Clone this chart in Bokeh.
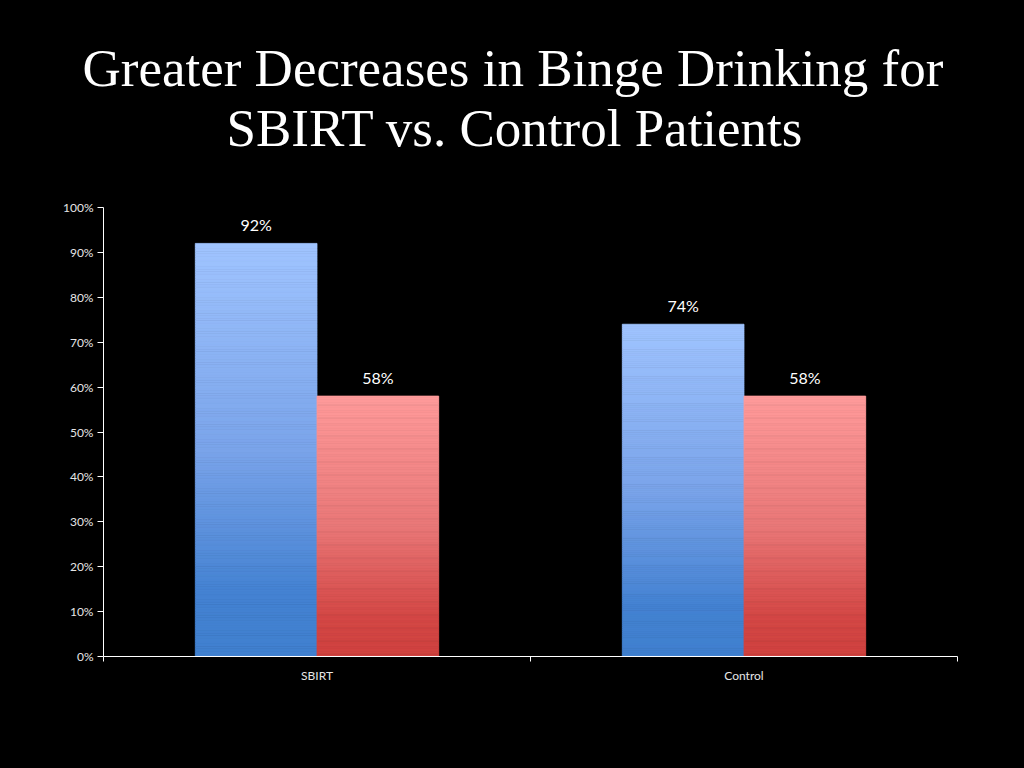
from bokeh.plotting import figure
from bokeh.models import Range1d, FixedTicker, NumeralTickFormatter, Title, ColumnDataSource, LinearAxis
from bokeh.core.properties import value
from bokeh.embed import file_html
from bokeh.resources import INLINE

# ---- data ----
categories = ["SBIRT", "Control"]
series_a = [0.92, 0.74]   # blue bars
series_b = [0.58, 0.58]   # red bars
y_ticks = [0.0, 0.1, 0.2, 0.3, 0.4, 0.5, 0.6, 0.7, 0.8, 0.9, 1.0]
title_lines = ["Greater Decreases in Binge Drinking for", "SBIRT vs. Control Patients"]

# ---- styles ----
blue_stops = [(0.0, (160, 196, 255)), (0.5, (122, 164, 234)), (0.85, (68, 130, 210)), (1.0, (64, 128, 207))]
red_stops = [(0.0, (255, 155, 155)), (0.5, (234, 120, 120)), (0.85, (212, 72, 70)), (1.0, (208, 66, 63))]
BAR_W = 0.285
N_SLICES = 160


def interp(stops, t):
    for (t0, c0), (t1, c1) in zip(stops[:-1], stops[1:]):
        if t0 <= t <= t1:
            f = (t - t0) / (t1 - t0) if t1 > t0 else 0
            return "#%02x%02x%02x" % tuple(int(round(a + (b - a) * f)) for a, b in zip(c0, c1))
    return "#%02x%02x%02x" % stops[-1][1]


p = figure(width=1024, height=768, frame_width=854, frame_height=449,
           min_border_left=103, min_border_right=67, min_border_top=207, min_border_bottom=112,
           x_range=Range1d(0, 2), y_range=Range1d(0, 1),
           output_backend="svg", toolbar_location=None)
p.background_fill_color = "black"
p.border_fill_color = "black"
p.outline_line_color = None
p.grid.grid_line_color = None

# gradient bars built as slices of each data bar
left, right, top, bottom, colors = [], [], [], [], []
for gi, cat in enumerate(categories):
    for off, val, stops in ((-BAR_W / 2, series_a[gi], blue_stops), (BAR_W / 2, series_b[gi], red_stops)):
        cx = gi + 0.5 + off
        for i in range(N_SLICES):
            t = (i + 0.5) / N_SLICES
            top.append(val * (1 - i / N_SLICES))
            bottom.append(val * (1 - (i + 1) / N_SLICES))
            left.append(cx - BAR_W / 2)
            right.append(cx + BAR_W / 2)
            colors.append(interp(stops, t))
src = ColumnDataSource(dict(left=left, right=right, top=top, bottom=bottom, color=colors))
p.quad(left="left", right="right", top="top", bottom="bottom", source=src,
       fill_color="color", line_color="color", line_width=0.8)

# value labels
lx, ly, lt = [], [], []
for gi in range(len(categories)):
    for off, val in ((-BAR_W / 2, series_a[gi]), (BAR_W / 2, series_b[gi])):
        lx.append(gi + 0.5 + off)
        ly.append(val)
        lt.append(f"{round(val * 100)}%")
p.text(x=lx, y=ly, text=lt, text_align="center", text_baseline="bottom", y_offset=-9,
       text_color="white", text_font=value("Lato"), text_font_size="16px")

# axes
xa = p.xaxis[0]
xa.ticker = FixedTicker(ticks=[0.5, 1.5], minor_ticks=[0, 1, 2])
xa.major_label_overrides = {0.5: categories[0], 1.5: categories[1]}
xa.major_tick_out = 0
xa.major_tick_in = 0
xa.minor_tick_out = 5
xa.minor_tick_in = 0
xa.minor_tick_line_color = "white"
xa.axis_line_color = "white"
xa.major_label_text_color = "#e6e6e6"
xa.major_label_text_font = "Lato"
xa.major_label_text_font_size = "12px"
xa.major_label_standoff = 6

ya = p.yaxis[0]
ya.ticker = FixedTicker(ticks=y_ticks, minor_ticks=[])
ya.formatter = NumeralTickFormatter(format="0%")
ya.major_tick_out = 6
ya.major_tick_in = 0
ya.major_tick_line_color = "white"
ya.axis_line_color = "white"
ya.major_label_text_color = "#e6e6e6"
ya.major_label_text_font = "Lato"
ya.major_label_text_font_size = "12px"
ya.major_label_standoff = 4

# invisible spacer (black-on-black tick) between the frame and the title block
spacer = LinearAxis(ticker=FixedTicker(ticks=[1], minor_ticks=[]), major_tick_out=51, major_tick_in=0,
                    minor_tick_out=0, minor_tick_in=0, axis_line_color=None,
                    major_tick_line_color="black", minor_tick_line_color=None,
                    major_label_overrides={1: ""}, major_label_text_font_size="1px",
                    major_label_standoff=0, major_label_text_color=None)
p.add_layout(spacer, "above")

# title lines: bottom line first (closest to the frame)
for line, off in ((title_lines[1], 123), (title_lines[0], -21)):
    p.add_layout(Title(text=line, align="left", offset=off, standoff=0,
                       text_color="white", text_font="Liberation Serif",
                       text_font_size="53px", text_font_style="normal"), "above")

html = file_html(p, INLINE)
html = html.replace("</head>", "<style>html,body{background:#000;margin:0;}</style></head>", 1)
open("out.html", "w").write(html)
